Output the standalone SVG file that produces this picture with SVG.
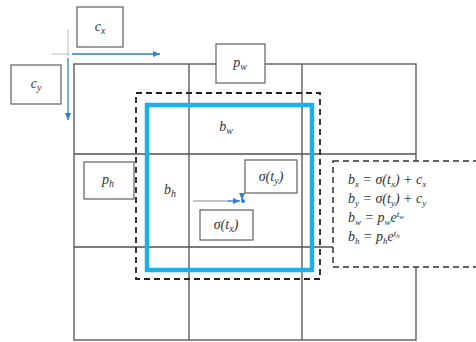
<svg xmlns="http://www.w3.org/2000/svg" width="476" height="342" viewBox="0 0 476 342">
<defs>
<style>
.grid{stroke:#505050;stroke-width:1.3;fill:none}
.box{fill:#fff;stroke:#606060;stroke-width:1.2}
.t{font-family:"Liberation Serif",serif;font-style:italic;font-size:14px;fill:#333}
.eq{font-family:"Liberation Serif",serif;font-style:italic;font-size:14px;fill:#333}
.blue{stroke:#2a7fd0;stroke-width:1.3;fill:none}
</style>
<marker id="ah" markerWidth="8" markerHeight="8" refX="7" refY="4" orient="auto" markerUnits="userSpaceOnUse">
<path d="M0,1 L7,4 L0,7 Z" fill="#2a7fd0"/>
</marker>
</defs>
<rect width="476" height="342" fill="#fff"/>
<g id="grid">
<rect class="grid" x="74" y="64" width="342" height="276"/>
<line class="grid" x1="189" y1="64" x2="189" y2="340"/>
<line class="grid" x1="302" y1="64" x2="302" y2="340"/>
<line class="grid" x1="74" y1="154" x2="416" y2="154"/>
<line class="grid" x1="74" y1="247" x2="416" y2="247"/>
</g>
<g id="anchor-box">
<rect x="136" y="93" width="184" height="186" fill="none" stroke="#222" stroke-width="1.8" stroke-dasharray="6 4"/>
</g>
<g id="pred-box">
<rect x="147" y="105" width="165" height="165" fill="none" stroke="#1cb0e4" stroke-width="4.5"/>
</g>
<g id="connectors">
<line x1="52" y1="54" x2="70" y2="54" stroke="#bbb" stroke-width="1"/>
<line x1="68" y1="30" x2="68" y2="56" stroke="#bbb" stroke-width="1"/>
<line class="blue" x1="72" y1="54" x2="160" y2="54" marker-end="url(#ah)"/>
<line class="blue" x1="68" y1="58" x2="68" y2="120" marker-end="url(#ah)"/>
<line x1="193" y1="201" x2="230" y2="201" stroke="#888" stroke-width="1"/>
<line class="blue" x1="228" y1="201" x2="240" y2="201" marker-end="url(#ah)"/>
<line class="blue" x1="242" y1="193" x2="242" y2="200" marker-end="url(#ah)"/>
<circle cx="243" cy="201" r="2" fill="#2a7fd0"/>
</g>
<g id="cx">
<rect class="box" x="77" y="7" width="46" height="40"/>
<text class="t" x="100" y="31" text-anchor="middle">c<tspan font-size="10" dy="3">x</tspan></text>
</g>
<g id="cy">
<rect class="box" x="11" y="65" width="50" height="39"/>
<text class="t" x="36" y="88" text-anchor="middle">c<tspan font-size="10" dy="3">y</tspan></text>
</g>
<g id="pw">
<rect class="box" x="216" y="44" width="49" height="39"/>
<text class="t" x="240" y="67" text-anchor="middle">p<tspan font-size="10" dy="3">w</tspan></text>
</g>
<g id="bw">
<text class="t" x="226" y="131" text-anchor="middle">b<tspan font-size="10" dy="3">w</tspan></text>
</g>
<g id="ph">
<rect class="box" x="84" y="162" width="50" height="37"/>
<text class="t" x="108" y="184" text-anchor="middle">p<tspan font-size="10" dy="3">h</tspan></text>
</g>
<g id="bh">
<text class="t" x="170" y="194" text-anchor="middle">b<tspan font-size="10" dy="3">h</tspan></text>
</g>
<g id="sty">
<rect class="box" x="245" y="160" width="52" height="33"/>
<text class="t" x="271" y="181" text-anchor="middle">σ(t<tspan font-size="10" dy="3">y</tspan><tspan dy="-3">)</tspan></text>
</g>
<g id="stx">
<rect class="box" x="200" y="210" width="53" height="30"/>
<text class="t" x="226" y="229" text-anchor="middle">σ(t<tspan font-size="10" dy="3">x</tspan><tspan dy="-3">)</tspan></text>
</g>
<g id="equations">
<rect x="333" y="161" width="150" height="106" fill="#fff" stroke="#333" stroke-width="1.5" stroke-dasharray="6 4"/>
<text class="eq" x="348" y="184">b<tspan font-size="9" dy="3">x</tspan><tspan dy="-3"> = σ(t</tspan><tspan font-size="9" dy="3">x</tspan><tspan dy="-3">) + c</tspan><tspan font-size="9" dy="3">x</tspan></text>
<text class="eq" x="348" y="203">b<tspan font-size="9" dy="3">y</tspan><tspan dy="-3"> = σ(t</tspan><tspan font-size="9" dy="3">y</tspan><tspan dy="-3">) + c</tspan><tspan font-size="9" dy="3">y</tspan></text>
<text class="eq" x="348" y="222">b<tspan font-size="9" dy="3">w</tspan><tspan dy="-3"> = p</tspan><tspan font-size="9" dy="3">w</tspan><tspan dy="-3">e</tspan><tspan font-size="9" dy="-5">t</tspan><tspan font-size="7" dy="2">w</tspan></text>
<text class="eq" x="348" y="241">b<tspan font-size="9" dy="3">h</tspan><tspan dy="-3"> = p</tspan><tspan font-size="9" dy="3">h</tspan><tspan dy="-3">e</tspan><tspan font-size="9" dy="-5">t</tspan><tspan font-size="7" dy="2">h</tspan></text>
</g>
</svg>
